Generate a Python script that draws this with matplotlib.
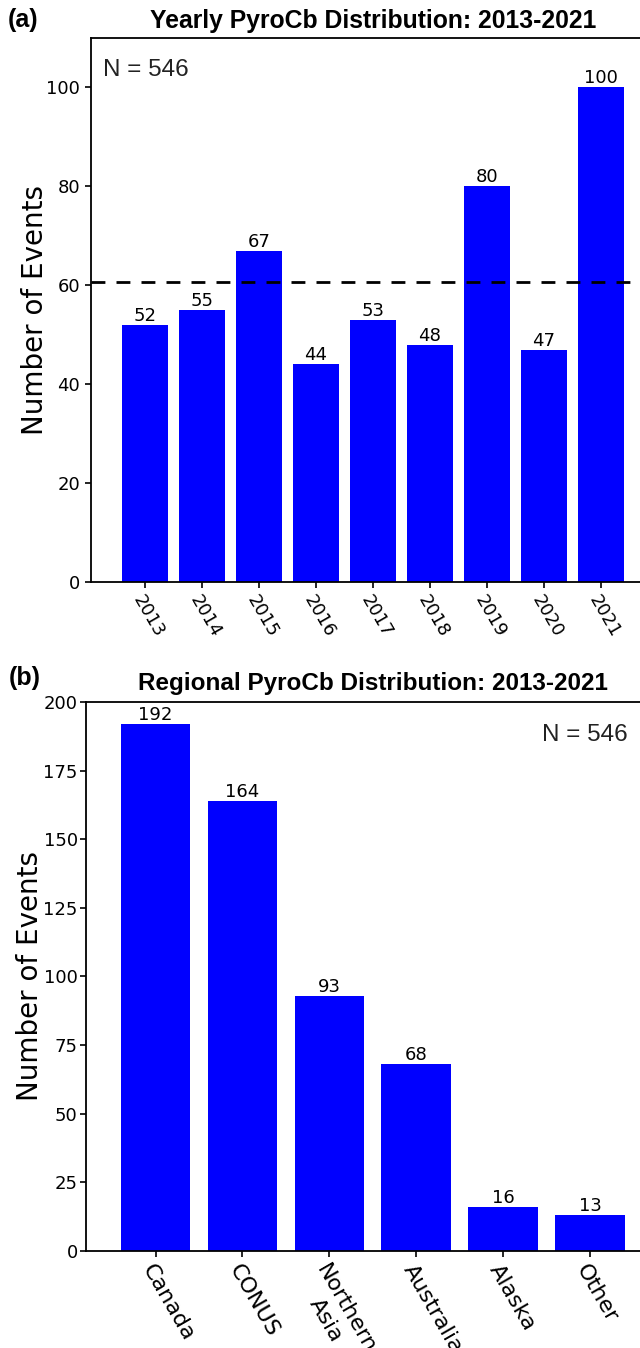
import matplotlib
matplotlib.use("Agg")
import matplotlib.pyplot as plt
import numpy as np

# Yearly pyroCb counts
years = ["2013", "2014", "2015", "2016", "2017", "2018", "2019", "2020", "2021"]
yearly_counts = [52, 55, 67, 44, 53, 48, 80, 47, 100]

# Regional pyroCb counts
regions = ["Canada", "CONUS", "Northern\nAsia", "Australia", "Alaska", "Other"]
regional_counts = [192, 164, 93, 68, 16, 13]

total_events = 546

W, H = 640, 1348
fig = plt.figure(figsize=(W / 100, H / 100), dpi=100)

BAR_COLOR = "#0000ff"
TITLE_FONT = "Liberation Sans"


def px_axes(left, top, right, bottom):
    return [left / W, 1 - bottom / H, (right - left) / W, (bottom - top) / H]


def style_axes(ax):
    for side in ("left", "bottom", "top", "right"):
        ax.spines[side].set_linewidth(1.3)
    ax.tick_params(axis="both", width=1.2, length=4)


# ---- (a) yearly distribution ----
ax1_left, ax1_right = 90.7, 90.7 + 9.9 * 57
ax1 = fig.add_axes(px_axes(ax1_left, 38, ax1_right, 582))
x1 = np.arange(len(years))
bars1 = ax1.bar(x1, yearly_counts, width=0.8, color=BAR_COLOR)
ax1.bar_label(bars1, labels=[str(v) for v in yearly_counts], fontsize=13, padding=0)
ax1.axhline(np.mean(yearly_counts), color="black", lw=2, linestyle=(0, (5, 4)))
ax1.set_xlim(-0.95, 8.95)
ax1.set_ylim(0, 110)
ax1.set_yticks([0, 20, 40, 60, 80, 100])
ax1.set_xticks(x1)
ax1.set_xticklabels(years, rotation=-60, ha="left", rotation_mode="anchor",
                    fontsize=13)
ax1.tick_params(axis="y", labelsize=13)
ax1.set_ylabel("Number of Events", fontsize=20)
ax1.yaxis.set_label_coords((49 - ax1_left) / (ax1_right - ax1_left), 0.5)
ax1.set_title("Yearly PyroCb Distribution: 2013-2021", fontsize=17.8,
              fontweight="bold", family=TITLE_FONT, pad=7)
ax1.text(0.022, 0.962, f"N = {total_events}", transform=ax1.transAxes,
         ha="left", va="top", fontsize=17.5, family=TITLE_FONT, color="#222222")
style_axes(ax1)

# ---- (b) regional distribution ----
ax2_left, ax2_right = 86, 86 + 6.6 * 86.9
ax2 = fig.add_axes(px_axes(ax2_left, 702, ax2_right, 1250.7))
x2 = np.arange(len(regions))
bars2 = ax2.bar(x2, regional_counts, width=0.8, color=BAR_COLOR)
ax2.bar_label(bars2, labels=[str(v) for v in regional_counts], fontsize=13, padding=0)
ax2.set_xlim(-0.8, 5.8)
ax2.set_ylim(0, 200)
ax2.set_yticks([0, 25, 50, 75, 100, 125, 150, 175, 200])
ax2.set_xticks(x2)
ax2.set_xticklabels(regions, rotation=-60, ha="left", rotation_mode="anchor",
                    multialignment="center", fontsize=16)
ax2.tick_params(axis="y", labelsize=13, pad=2)
ax2.set_ylabel("Number of Events", fontsize=20)
ax2.yaxis.set_label_coords((44 - ax2_left) / (ax2_right - ax2_left), 0.5)
ax2.set_title("Regional PyroCb Distribution: 2013-2021", fontsize=17.5,
              fontweight="bold", family=TITLE_FONT, pad=8.5)
ax2.text(0.945, 0.960, f"N = {total_events}", transform=ax2.transAxes,
         ha="right", va="top", fontsize=17.5, family=TITLE_FONT, color="#222222")
style_axes(ax2)

# panel letters
fig.text(8 / W, 1 - 27 / H, "(a)", fontsize=18, fontweight="bold",
         family=TITLE_FONT, va="baseline", ha="left")
fig.text(9 / W, 1 - 685 / H, "(b)", fontsize=18, fontweight="bold",
         family=TITLE_FONT, va="baseline", ha="left")

fig.savefig("out.png", dpi=100, facecolor="white")
